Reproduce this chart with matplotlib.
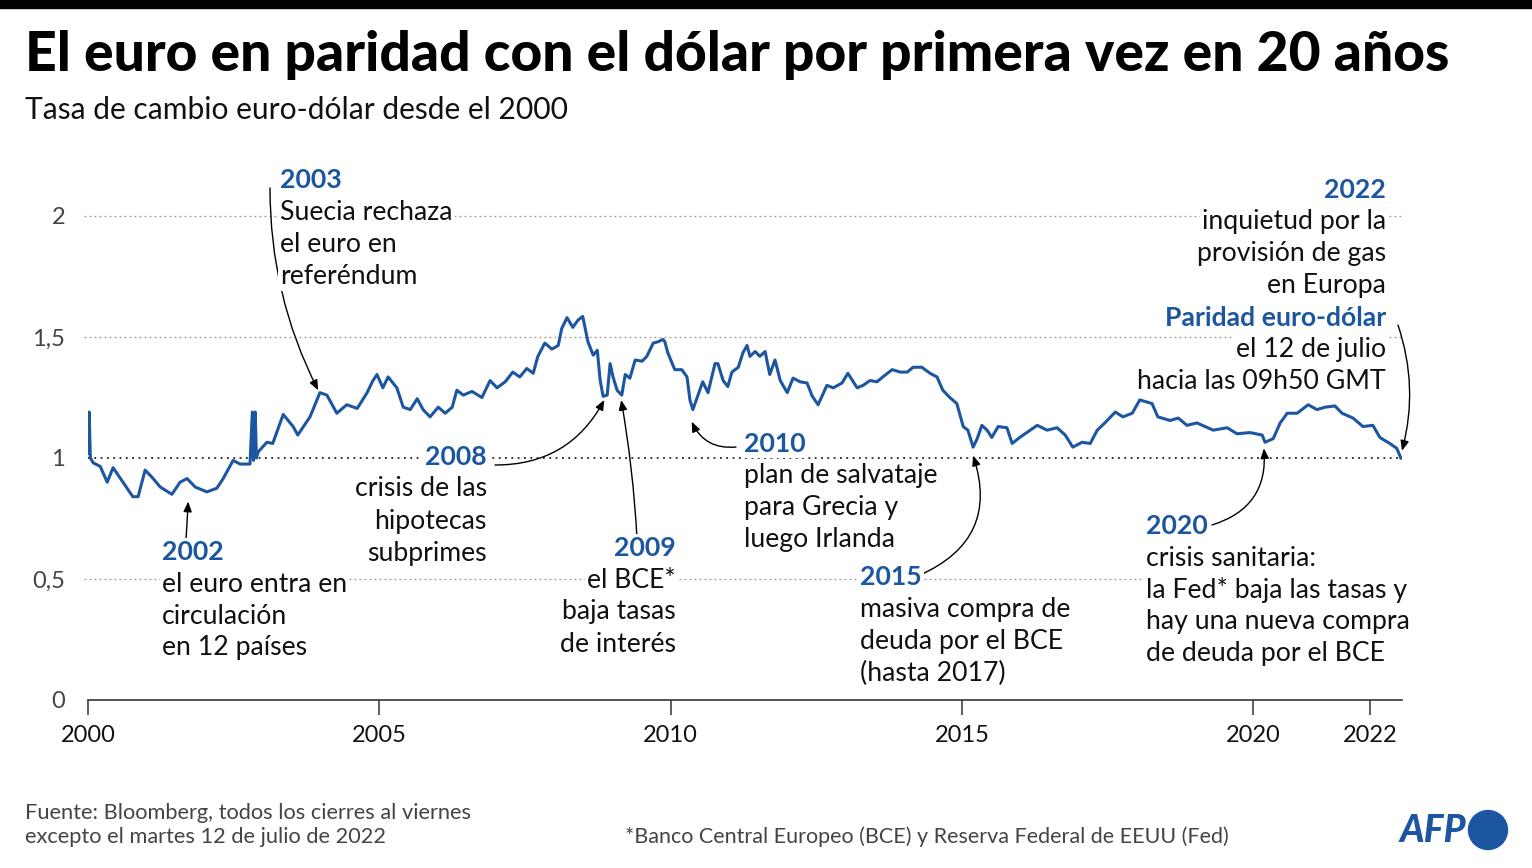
import matplotlib.pyplot as plt
from matplotlib.patches import Circle

# EUR/USD (annee decimale, taux)
anios = [2000.00, 2000.02, 2000.04, 2000.09, 2000.21, 2000.33, 2000.43, 2000.60, 2000.77, 2000.86,
         2000.98, 2001.10, 2001.24, 2001.44, 2001.58, 2001.70, 2001.84, 2002.04, 2002.21, 2002.32,
         2002.49, 2002.61, 2002.78, 2002.82, 2002.84, 2002.87, 2002.89, 2002.92, 2003.07, 2003.17,
         2003.35, 2003.52, 2003.60, 2003.81, 2003.98, 2004.10, 2004.27, 2004.44, 2004.62, 2004.79,
         2004.89, 2004.96, 2005.06, 2005.15, 2005.30, 2005.41, 2005.53, 2005.65, 2005.75, 2005.87,
         2006.01, 2006.13, 2006.25, 2006.33, 2006.44, 2006.59, 2006.76, 2006.90, 2007.02, 2007.16,
         2007.29, 2007.41, 2007.53, 2007.64, 2007.72, 2007.84, 2007.96, 2008.07, 2008.13, 2008.22,
         2008.32, 2008.41, 2008.49, 2008.58, 2008.67, 2008.74, 2008.79, 2008.84, 2008.91, 2008.96,
         2009.01, 2009.08, 2009.16, 2009.22, 2009.30, 2009.39, 2009.51, 2009.59, 2009.70, 2009.78,
         2009.87, 2009.90, 2009.95, 2010.07, 2010.19, 2010.28, 2010.33, 2010.38, 2010.55, 2010.64,
         2010.76, 2010.81, 2010.90, 2010.98, 2011.05, 2011.16, 2011.24, 2011.31, 2011.36, 2011.45,
         2011.53, 2011.62, 2011.70, 2011.79, 2011.88, 2012.00, 2012.10, 2012.22, 2012.34, 2012.43,
         2012.53, 2012.68, 2012.79, 2012.94, 2013.04, 2013.20, 2013.30, 2013.42, 2013.54, 2013.64,
         2013.80, 2013.94, 2014.06, 2014.16, 2014.31, 2014.45, 2014.57, 2014.67, 2014.79, 2014.91,
         2015.02, 2015.10, 2015.19, 2015.26, 2015.34, 2015.43, 2015.51, 2015.62, 2015.77, 2015.86,
         2015.99, 2016.11, 2016.29, 2016.46, 2016.63, 2016.77, 2016.90, 2017.06, 2017.20, 2017.32,
         2017.45, 2017.63, 2017.76, 2017.92, 2018.05, 2018.26, 2018.36, 2018.57, 2018.71, 2018.86,
         2019.03, 2019.31, 2019.55, 2019.72, 2019.94, 2020.15, 2020.20, 2020.34, 2020.46, 2020.58,
         2020.75, 2020.94, 2021.09, 2021.23, 2021.40, 2021.52, 2021.71, 2021.88, 2022.05, 2022.17,
         2022.34, 2022.46, 2022.53]
tasa = [1.02, 1.19, 1.00, 0.98, 0.965, 0.90, 0.96, 0.90, 0.84, 0.84,
        0.95, 0.92, 0.88, 0.85, 0.90, 0.915, 0.88, 0.86, 0.875, 0.915,
        0.99, 0.975, 0.975, 1.19, 0.99, 1.19, 1.00, 1.025, 1.065, 1.06,
        1.18, 1.13, 1.095, 1.17, 1.27, 1.26, 1.185, 1.22, 1.205, 1.27,
        1.32, 1.345, 1.29, 1.335, 1.29, 1.21, 1.20, 1.245, 1.20, 1.17,
        1.21, 1.185, 1.21, 1.28, 1.26, 1.275, 1.25, 1.32, 1.29, 1.315,
        1.355, 1.335, 1.37, 1.35, 1.42, 1.475, 1.45, 1.465, 1.535, 1.58,
        1.54, 1.57, 1.585, 1.48, 1.425, 1.445, 1.32, 1.255, 1.26, 1.39,
        1.335, 1.28, 1.26, 1.345, 1.33, 1.405, 1.40, 1.42, 1.475, 1.48,
        1.49, 1.48, 1.435, 1.365, 1.365, 1.335, 1.24, 1.20, 1.315, 1.27,
        1.39, 1.39, 1.32, 1.295, 1.355, 1.375, 1.435, 1.465, 1.42, 1.44,
        1.42, 1.44, 1.345, 1.405, 1.32, 1.27, 1.33, 1.315, 1.31, 1.255,
        1.22, 1.30, 1.29, 1.31, 1.35, 1.29, 1.30, 1.32, 1.315, 1.335,
        1.365, 1.355, 1.355, 1.375, 1.375, 1.35, 1.335, 1.28, 1.25, 1.225,
        1.13, 1.115, 1.045, 1.08, 1.135, 1.115, 1.085, 1.13, 1.125, 1.06,
        1.085, 1.105, 1.135, 1.115, 1.125, 1.095, 1.045, 1.065, 1.06, 1.115,
        1.145, 1.19, 1.17, 1.185, 1.24, 1.225, 1.17, 1.155, 1.165, 1.135,
        1.145, 1.115, 1.125, 1.10, 1.105, 1.095, 1.065, 1.08, 1.145, 1.185,
        1.185, 1.22, 1.20, 1.21, 1.215, 1.185, 1.165, 1.13, 1.135, 1.085,
        1.06, 1.04, 1.00]

y_ticks = [0, 0.5, 1, 1.5, 2]
y_labels = ['0', '0,5', '1', '1,5', '2']
x_ticks = [2000, 2005, 2010, 2015, 2020, 2022]

azul = '#1d56a0'
fuente = 'Lato'
plt.rcParams['font.family'] = [fuente, 'DejaVu Sans']

W, H = 1532, 868
fig = plt.figure(figsize=(W / 100, H / 100), dpi=100)
ax = fig.add_axes([88 / W, 1 - 700 / H, (1402 - 88) / W, (700 - 216) / H])

ax.set_xlim(2000, 2022.55)
ax.set_ylim(0, 2)
for v in [0.5, 1.5, 2]:
    ax.axhline(v, xmin=-0.003, color='#999999', lw=0.9, ls=(0, (1.5, 2.5)), zorder=1, clip_on=False)
ax.axhline(1, color='#222222', lw=1.3, ls=(0, (1, 2.5)), zorder=1)
ax.plot(anios, tasa, color=azul, lw=2.2, zorder=3, solid_joinstyle='round')

for s in ['top', 'right', 'left']:
    ax.spines[s].set_visible(False)
ax.spines['bottom'].set_color('#333333')
ax.spines['bottom'].set_linewidth(1.2)
ax.set_xticks(x_ticks)
ax.set_xticklabels([str(t) for t in x_ticks], fontsize=17, color='#111111')
ax.tick_params(axis='x', length=11, width=1.1, color='#333333', pad=7)
ax.set_yticks(y_ticks)
ax.set_yticklabels(y_labels, fontsize=17, color='#444444')
ax.tick_params(axis='y', length=0, pad=16.5)

# titulo
fig.patches.append(plt.Rectangle((0, 1 - 8 / H), 1, 8 / H, transform=fig.transFigure,
                                 color='black', zorder=5))
fig.text(25 / W, 1 - 55 / H, 'El euro en paridad con el dólar por primera vez en 20 años',
         fontsize=39.7, fontweight='black', va='center', ha='left')
fig.text(25 / W, 1 - 110 / H, 'Tasa de cambio euro-dólar desde el 2000',
         fontsize=21.6, va='center', ha='left', color='#111111')

fs = 19.2
paso = 32


def bloque(x, y, lineas, ha='left'):
    for i, linea in enumerate(lineas):
        if isinstance(linea, tuple):
            txt, bold = linea
        else:
            txt, bold = linea, False
        fig.text(x / W, 1 - (y + i * paso) / H, txt, fontsize=fs, ha=ha, va='center',
                 color=azul if bold else '#111111', fontweight='bold' if bold else 'normal',
                 zorder=4, bbox=dict(facecolor='white', edgecolor='none', pad=1.5))


bloque(280, 180, [('2003', True), 'Suecia rechaza', 'el euro en', 'referéndum'])
bloque(162, 552, [('2002', True), 'el euro entra en', 'circulación', 'en 12 países'])
bloque(487, 457, [('2008', True), 'crisis de las', 'hipotecas', 'subprimes'], ha='right')
bloque(676, 548, [('2009', True), 'el BCE*', 'baja tasas', 'de interés'], ha='right')
bloque(744, 444, [('2010', True), 'plan de salvataje', 'para Grecia y', 'luego Irlanda'])
bloque(860, 577, [('2015', True), 'masiva compra de', 'deuda por el BCE', '(hasta 2017)'])
bloque(1146, 526, [('2020', True), 'crisis sanitaria:', 'la Fed* baja las tasas y',
                   'hay una nueva compra', 'de deuda por el BCE'])
bloque(1386, 190, [('2022', True), 'inquietud por la', 'provisión de gas', 'en Europa',
                   ('Paridad euro-dólar', True), 'el 12 de julio', 'hacia las 09h50 GMT'], ha='right')

# flechas: (punta en datos, origen en pixeles de la figura, curvatura)
flechas = [((2003.95, 1.28), (270, 188), 0.12),
           ((2001.72, 0.82), (186, 540), 0.0),
           ((2008.86, 1.24), (495, 465), 0.3),
           ((2009.15, 1.24), (637, 538), 0.03),
           ((2010.36, 1.15), (736, 447), -0.35),
           ((2015.19, 1.01), (920, 575), 0.45),
           ((2020.18, 1.04), (1212, 525), 0.4),
           ((2022.55, 1.03), (1398, 325), -0.15)]
for tip, orig, rad in flechas:
    ax.annotate('', xy=tip, xycoords='data', xytext=(orig[0], H - orig[1]),
                textcoords='figure pixels', zorder=4, annotation_clip=False,
                arrowprops=dict(arrowstyle='-|>,head_length=0.6,head_width=0.25', color='black',
                                lw=1.0, shrinkA=0, shrinkB=0,
                                connectionstyle=f'arc3,rad={rad}'))

# pie
fig.text(25 / W, 1 - 813 / H, 'Fuente: Bloomberg, todos los cierres al viernes',
         fontsize=15.7, color='#444444', va='center')
fig.text(25 / W, 1 - 837 / H, 'excepto el martes 12 de julio de 2022',
         fontsize=15.7, color='#444444', va='center')
fig.text(625 / W, 1 - 837 / H, '*Banco Central Europeo (BCE) y Reserva Federal de EEUU (Fed)',
         fontsize=15.5, color='#444444', va='center')
fig.text(1466 / W, 1 - 831 / H, 'AFP', fontsize=27, fontweight='black', style='italic',
         color=azul, ha='right', va='center')
fig.patches.append(Circle((14.88, 8.68 - 8.30), 0.195, transform=fig.dpi_scale_trans,
                          color=azul))

fig.savefig('out.png', dpi=100)
